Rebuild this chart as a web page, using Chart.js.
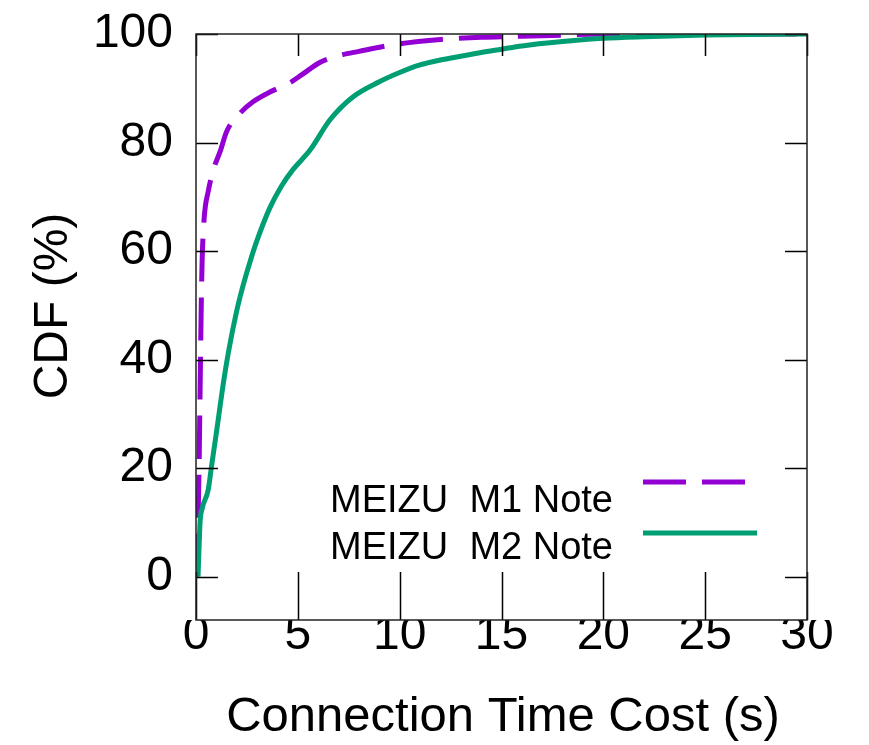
<!DOCTYPE html>
<html>
<head>
<meta charset="utf-8">
<title>CDF of connection time cost</title>
<script src="https://cdn.jsdelivr.net/npm/chart.js@4.4.1/dist/chart.umd.min.js"></script>
<style>
  html, body { margin: 0; padding: 0; background: #fff; }
  #cdfChart { display: block; }
</style>
</head>
<body>
<canvas id="cdfChart" width="869" height="745"></canvas>
<script>
// connection time (s) and cumulative share (%) per phone
const m1Times = [0, 0.05, 0.1, 0.15, 0.2, 0.25, 0.3, 0.4, 0.6, 0.9, 1.2, 1.5, 2.16, 2.8, 3.63, 4.6, 5.2, 6.1, 7.0, 8.0, 10, 12, 14, 16, 18, 20, 25, 30];
const m1Cdf   = [0, 4, 10, 20, 34, 48, 58, 66, 71, 75.5, 78.5, 82, 85.4, 87.5, 89.3, 91, 92.5, 94.8, 96, 96.8, 98.2, 99, 99.4, 99.6, 99.8, 100, 100, 100];

const m2Times = [0.1, 0.2, 0.3, 0.6, 0.75, 1.0, 1.37, 1.6, 2.0, 2.3, 2.65, 3.0, 3.63, 4.2, 4.76, 5.6, 6.58, 7.7, 9.0, 10, 11, 12, 13, 14, 15, 16, 18, 20, 22, 25, 30];
const m2Cdf   = [0, 10, 12.5, 16, 20, 26.5, 36.3, 41.5, 49, 53.5, 58, 62, 68, 72, 75, 78.6, 84.2, 88.4, 91.2, 92.9, 94.3, 95.2, 95.9, 96.6, 97.2, 97.8, 98.6, 99.2, 99.5, 99.8, 100];

const seriesNames = ['MEIZU  M1 Note', 'MEIZU  M2 Note'];
const xTicks = [0, 5, 10, 15, 20, 25, 30];
const yTicks = [0, 20, 40, 60, 80, 100];

const PURPLE = '#9400d3';
const GREEN = '#009e73';
const FONT = '"Liberation Sans", Arial, sans-serif';

const toPoints = (xs, ys) => xs.map((x, i) => ({ x: x, y: ys[i] }));

// frame, inward ticks, axis titles and the key
const decorations = {
  id: 'decorations',
  afterDatasetsDraw(chart) {
    const ctx = chart.ctx;
    const { left, right, top, bottom } = chart.chartArea;
    const xs = chart.scales.x;
    const ys = chart.scales.y;

    ctx.save();
    ctx.strokeStyle = '#000';
    ctx.lineWidth = 1.5;
    ctx.beginPath();
    xTicks.forEach(v => {
      const px = Math.round(xs.getPixelForValue(v)) + 0.5;
      ctx.moveTo(px, bottom); ctx.lineTo(px, bottom - 48);
      ctx.moveTo(px, top); ctx.lineTo(px, top + 22);
    });
    yTicks.forEach(v => {
      const py = Math.round(ys.getPixelForValue(v)) + 0.5;
      ctx.moveTo(left, py); ctx.lineTo(left + 22, py);
      ctx.moveTo(right, py); ctx.lineTo(right - 22, py);
    });
    ctx.stroke();

    ctx.strokeStyle = '#222';
    ctx.strokeRect(left, top, right - left, bottom - top);

    // axis titles
    ctx.fillStyle = '#000';
    ctx.textAlign = 'center';
    ctx.textBaseline = 'alphabetic';
    ctx.font = '49px ' + FONT;
    ctx.fillText('Connection Time Cost (s)', 503, 731);
    ctx.font = '48px ' + FONT;
    ctx.save();
    ctx.translate(67, 306);
    ctx.rotate(-Math.PI / 2);
    ctx.fillText('CDF (%)', 0, 0);
    ctx.restore();

    // key, text right aligned with a line sample beside it
    ctx.font = '38px ' + FONT;
    ctx.textAlign = 'right';
    const rows = [
      { y: 512, lineY: 482, color: PURPLE, dash: [43, 16] },
      { y: 559, lineY: 533, color: GREEN, dash: [] }
    ];
    rows.forEach((r, i) => {
      ctx.fillText(seriesNames[i], 613, r.y);
      ctx.strokeStyle = r.color;
      ctx.lineWidth = 5;
      ctx.setLineDash(r.dash);
      ctx.beginPath();
      ctx.moveTo(643, r.lineY);
      ctx.lineTo(757, r.lineY);
      ctx.stroke();
    });
    ctx.restore();
  }
};

// keep tick labels from pushing the plot area inward
const noLabelPadding = scale => {
  scale.paddingTop = 0;
  scale.paddingBottom = 0;
  scale.paddingLeft = 0;
  scale.paddingRight = 0;
};

new Chart(document.getElementById('cdfChart'), {
  type: 'line',
  data: {
    datasets: [
      {
        label: seriesNames[0],
        data: toPoints(m1Times, m1Cdf),
        borderColor: PURPLE,
        borderWidth: 5,
        borderDash: [43, 16],
        pointRadius: 0,
        cubicInterpolationMode: 'monotone',
        order: 1
      },
      {
        label: seriesNames[1],
        data: toPoints(m2Times, m2Cdf),
        borderColor: GREEN,
        borderWidth: 5,
        pointRadius: 0,
        cubicInterpolationMode: 'monotone',
        order: 0
      }
    ]
  },
  options: {
    responsive: false,
    animation: false,
    devicePixelRatio: 1,
    layout: { padding: { top: 34, right: 62, left: 0, bottom: 0 } },
    plugins: { legend: { display: false }, tooltip: { enabled: false } },
    scales: {
      x: {
        type: 'linear',
        min: 0,
        max: 30,
        grid: { display: false, drawTicks: false },
        border: { display: false },
        afterBuildTicks: scale => { scale.ticks = xTicks.map(v => ({ value: v })); },
        afterFit: scale => { scale.height = 125; noLabelPadding(scale); },
        ticks: {
          color: '#000',
          padding: -13,
          maxRotation: 0,
          autoSkip: false,
          font: { family: FONT, size: 48 }
        }
      },
      y: {
        type: 'linear',
        min: -8,
        max: 100,
        grid: { display: false, drawTicks: false },
        border: { display: false },
        afterBuildTicks: scale => { scale.ticks = yTicks.map(v => ({ value: v })); },
        afterFit: scale => { scale.width = 196; noLabelPadding(scale); },
        ticks: {
          color: '#000',
          padding: 23,
          autoSkip: false,
          font: { family: FONT, size: 48 }
        }
      }
    }
  },
  plugins: [decorations]
});
</script>
</body>
</html>
